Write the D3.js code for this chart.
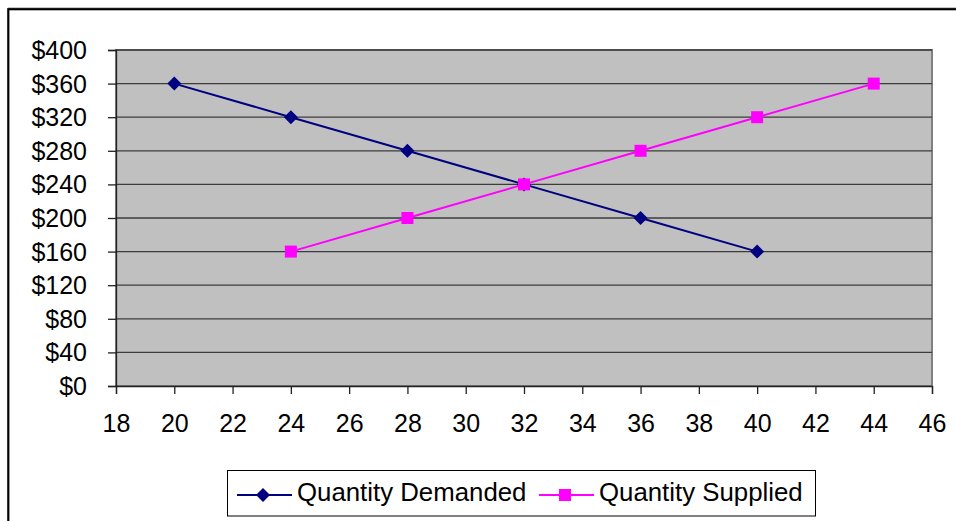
<!DOCTYPE html>
<html>
<head>
<meta charset="utf-8">
<script src="https://cdn.jsdelivr.net/npm/d3@7"></script>
<style>
  html, body { margin: 0; padding: 0; background: #fff; }
  svg { display: block; }
  text { font-family: "Liberation Sans", Arial, sans-serif; fill: #000; }
</style>
</head>
<body>
<svg id="chart" width="956" height="521"></svg>
<script>
// Price (y) against quantity (x) for demand and supply schedules
const demandQty = [20, 24, 28, 32, 36, 40];
const demandPrice = [360, 320, 280, 240, 200, 160];
const supplyQty = [24, 28, 32, 36, 40, 44];
const supplyPrice = [160, 200, 240, 280, 320, 360];
const xTicks = [18, 20, 22, 24, 26, 28, 30, 32, 34, 36, 38, 40, 42, 44, 46];
const yTicks = [0, 40, 80, 120, 160, 200, 240, 280, 320, 360, 400];
const seriesNames = ["Quantity Demanded", "Quantity Supplied"];

const svg = d3.select("#chart");
const plot = { left: 116, right: 932, top: 50, bottom: 386 };

const x = d3.scaleLinear().domain([18, 46]).range([plot.left, plot.right]);
const y = d3.scaleLinear().domain([0, 400]).range([plot.bottom, plot.top]);

// outer chart frame
svg.append("line").attr("x1", 8).attr("x2", 956).attr("y1", 7.5).attr("y2", 7.5)
  .attr("stroke", "#c8c8c8").attr("stroke-width", 1);
svg.append("rect").attr("x", 8.3).attr("y", 9.2).attr("width", 960).attr("height", 530)
  .attr("fill", "none").attr("stroke", "#000").attr("stroke-width", 2.2);

// plot background
svg.append("rect")
  .attr("x", plot.left).attr("y", plot.top)
  .attr("width", plot.right - plot.left).attr("height", plot.bottom - plot.top)
  .attr("fill", "#c0c0c0").attr("stroke", "#808080").attr("stroke-width", 2);

// horizontal gridlines
svg.append("g").selectAll("line").data(yTicks.filter(d => d > 0)).join("line")
  .attr("x1", plot.left).attr("x2", plot.right)
  .attr("y1", d => y(d)).attr("y2", d => y(d))
  .attr("stroke", "#3c3c3c").attr("stroke-width", 1.3);

// y axis
const yAxis = svg.append("g").attr("transform", `translate(${plot.left},0)`)
  .call(d3.axisLeft(y).tickValues(yTicks).tickSize(8).tickPadding(21)
    .tickFormat(d => "$" + d));
yAxis.select(".domain").attr("stroke", "#222").attr("stroke-width", 1.3);
yAxis.selectAll(".tick line").attr("stroke", "#222").attr("stroke-width", 1.3);
yAxis.selectAll(".tick text").attr("font-size", 25).attr("fill", "#000")
  .attr("font-family", '"Liberation Sans", Arial, sans-serif').attr("dy", "0.34em");

// x axis
const xAxis = svg.append("g").attr("transform", `translate(0,${plot.bottom})`)
  .call(d3.axisBottom(x).tickValues(xTicks).tickSize(8).tickPadding(20));
xAxis.select(".domain").attr("stroke", "#222").attr("stroke-width", 1.3);
xAxis.selectAll(".tick line").attr("stroke", "#222").attr("stroke-width", 1.3);
xAxis.selectAll(".tick text").attr("font-size", 25).attr("fill", "#000")
  .attr("font-family", '"Liberation Sans", Arial, sans-serif');

const demand = demandQty.map((q, i) => ({ q, p: demandPrice[i] }));
const supply = supplyQty.map((q, i) => ({ q, p: supplyPrice[i] }));
const line = d3.line().x(d => x(d.q)).y(d => y(d.p));

const blue = "#000080", pink = "#ff00ff";
const diamond = (cx, cy, r) => `M${cx},${cy - r}L${cx + r},${cy}L${cx},${cy + r}L${cx - r},${cy}Z`;

svg.append("path").datum(demand).attr("d", line)
  .attr("fill", "none").attr("stroke", blue).attr("stroke-width", 2);
svg.append("path").datum(supply).attr("d", line)
  .attr("fill", "none").attr("stroke", pink).attr("stroke-width", 2);

svg.append("g").selectAll("path").data(demand).join("path")
  .attr("d", d => diamond(x(d.q), y(d.p), 7)).attr("fill", blue);
svg.append("g").selectAll("rect").data(supply).join("rect")
  .attr("x", d => x(d.q) - 6).attr("y", d => y(d.p) - 6)
  .attr("width", 12).attr("height", 12).attr("fill", pink);

// legend
const legend = svg.append("g");
legend.append("rect").attr("x", 227.5).attr("y", 470.5).attr("width", 588).attr("height", 45.5)
  .attr("fill", "#fff").attr("stroke", "#000").attr("stroke-width", 1);
const ly = 495;
legend.append("line").attr("x1", 237).attr("x2", 292).attr("y1", ly).attr("y2", ly)
  .attr("stroke", blue).attr("stroke-width", 2);
legend.append("path").attr("d", diamond(263, ly, 7)).attr("fill", blue);
legend.append("text").attr("x", 297).attr("y", ly + 6).attr("font-size", 25.8).text(seriesNames[0]);
legend.append("line").attr("x1", 539).attr("x2", 594).attr("y1", ly).attr("y2", ly)
  .attr("stroke", pink).attr("stroke-width", 2);
legend.append("rect").attr("x", 565 - 6).attr("y", ly - 6).attr("width", 12).attr("height", 12).attr("fill", pink);
legend.append("text").attr("x", 599).attr("y", ly + 6).attr("font-size", 25.8).text(seriesNames[1]);
</script>
</body>
</html>
